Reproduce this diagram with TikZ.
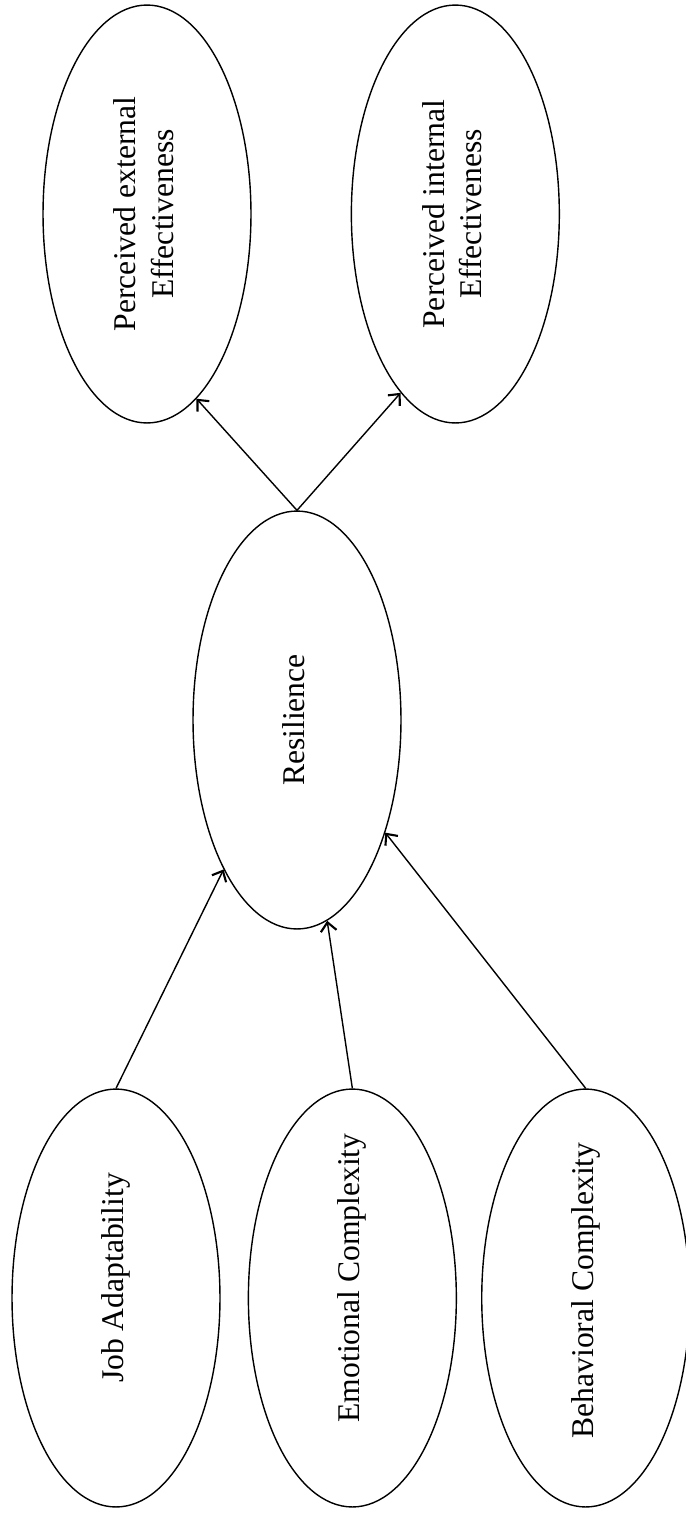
\documentclass[tikz,border=0pt]{standalone}
\usepackage{fontspec}
\setmainfont{Liberation Serif}
\usetikzlibrary{shapes.geometric,arrows.meta,positioning}

\newcommand{\vlabel}[2][0pt]{\rotatebox{90}{\makebox[0pt]{\hspace{#1}\begin{tabular}{@{}c@{}}#2\end{tabular}}}}

\begin{document}
\begin{tikzpicture}[
        x=0.02cm, y=-0.02cm,
        construct/.style={ellipse, draw=black, line width=0.8pt, minimum width=4.16cm, minimum height=8.36cm, inner sep=0pt, align=center, font=\fontsize{18}{21.5}\selectfont},
        arrow/.style={-{Straight Barb[length=5pt, width=9pt, line width=1.2pt]}, line width=0.8pt, draw=black}
    ]
        \useasboundingbox (0,0) rectangle (686,1516);

        % Antecedents
        \node[construct] (job) at (116,1298) {\vlabel[0.8cm]{Job Adaptability}};
        \node[construct, right=0.54cm of job] (emo) {\vlabel[0.8cm]{Emotional Complexity}};
        \node[construct, right=0.48cm of emo] (beh) {\vlabel[0.3cm]{Behavioral Complexity}};

        % Mediator
        \node[construct] (res) at (297,720) {\vlabel{Resilience}};

        % Outcomes
        \node[construct] (ext) at (147,214) {\vlabel{Perceived external\\Effectiveness}};
        \node[construct, right=1.98cm of ext] (int) {\vlabel{Perceived internal\\Effectiveness}};

        % Paths
        \draw[arrow] (job.north) -- (res);
        \draw[arrow] (emo.north) -- (res);
        \draw[arrow] (beh.north) -- (res);
        \draw[arrow] (res.north) -- (ext.285);
        \draw[arrow] (res.north) -- (int.253);
    \end{tikzpicture}
\end{document}
